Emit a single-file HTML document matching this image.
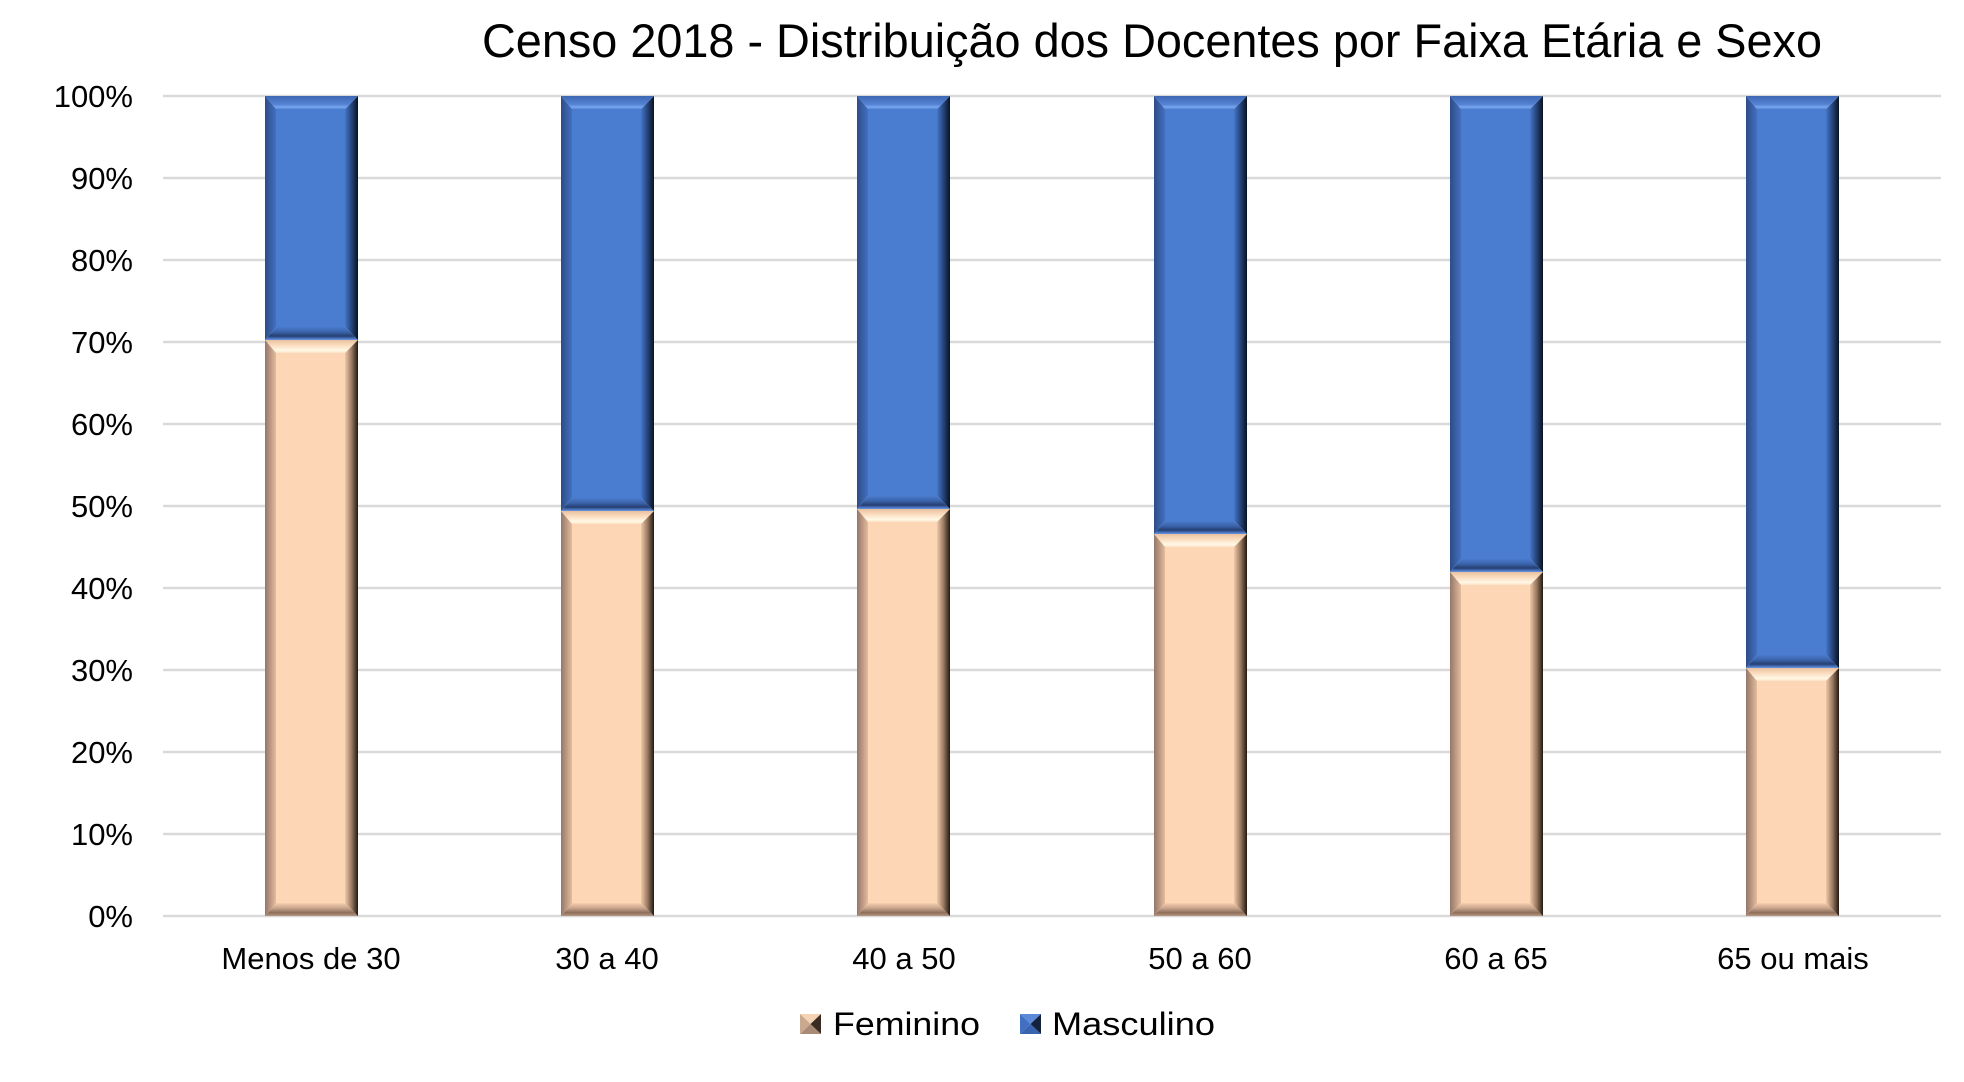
<!DOCTYPE html>
<html>
<head>
<meta charset="utf-8">
<style>
html,body{margin:0;padding:0;background:#fff;}
svg{display:block;}
text{font-family:"Liberation Sans",Arial,sans-serif;fill:#000;}
</style>
</head>
<body>
<svg width="1964" height="1082" viewBox="0 0 1964 1082" xmlns="http://www.w3.org/2000/svg">
<defs>
  <linearGradient id="bTop" x1="0" y1="0" x2="0" y2="1">
    <stop offset="0" stop-color="#3e67b2"/><stop offset="0.65" stop-color="#5483d5"/>
    <stop offset="0.85" stop-color="#7aa6f0"/><stop offset="1" stop-color="#5787d8"/>
  </linearGradient>
  <linearGradient id="bBot" x1="0" y1="0" x2="0" y2="1">
    <stop offset="0" stop-color="#4a7bce"/><stop offset="0.4" stop-color="#3a62a8"/>
    <stop offset="0.7" stop-color="#253f70"/><stop offset="0.88" stop-color="#4a74c0"/>
    <stop offset="1" stop-color="#6a96e2"/>
  </linearGradient>
  <linearGradient id="bLeft" x1="0" y1="0" x2="1" y2="0">
    <stop offset="0" stop-color="#2c4c88"/><stop offset="1" stop-color="#4470c0"/>
  </linearGradient>
  <linearGradient id="bRight" x1="0" y1="0" x2="1" y2="0">
    <stop offset="0" stop-color="#4476c8"/><stop offset="0.5" stop-color="#26447a"/>
    <stop offset="1" stop-color="#0a1222"/>
  </linearGradient>
  <linearGradient id="pTop" x1="0" y1="0" x2="0" y2="1">
    <stop offset="0" stop-color="#e8c0a0"/><stop offset="0.4" stop-color="#fbdcbe"/>
    <stop offset="0.8" stop-color="#fff8e6"/><stop offset="1" stop-color="#fde2c6"/>
  </linearGradient>
  <linearGradient id="pBot" x1="0" y1="0" x2="0" y2="1">
    <stop offset="0" stop-color="#f6cfb0"/><stop offset="0.4" stop-color="#c8a48a"/>
    <stop offset="0.75" stop-color="#8c6e5c"/><stop offset="1" stop-color="#b89880"/>
  </linearGradient>
  <linearGradient id="pLeft" x1="0" y1="0" x2="1" y2="0">
    <stop offset="0" stop-color="#94766a"/><stop offset="1" stop-color="#e4bc9c"/>
  </linearGradient>
  <linearGradient id="pRight" x1="0" y1="0" x2="1" y2="0">
    <stop offset="0" stop-color="#f0c8a8"/><stop offset="0.5" stop-color="#9a7a62"/>
    <stop offset="1" stop-color="#221812"/>
  </linearGradient>
</defs>

<!-- Title -->
<text x="482" y="57" font-size="47" textLength="1340" lengthAdjust="spacingAndGlyphs">Censo 2018 - Distribuição dos Docentes por Faixa Etária e Sexo</text>

<!-- Gridlines -->
<g stroke="#d9d9d9" stroke-width="2.5">
  <line x1="163" y1="96" x2="1941" y2="96"/>
  <line x1="163" y1="178" x2="1941" y2="178"/>
  <line x1="163" y1="260" x2="1941" y2="260"/>
  <line x1="163" y1="342" x2="1941" y2="342"/>
  <line x1="163" y1="424" x2="1941" y2="424"/>
  <line x1="163" y1="506" x2="1941" y2="506"/>
  <line x1="163" y1="588" x2="1941" y2="588"/>
  <line x1="163" y1="670" x2="1941" y2="670"/>
  <line x1="163" y1="752" x2="1941" y2="752"/>
  <line x1="163" y1="834" x2="1941" y2="834"/>
  <line x1="163" y1="916" x2="1941" y2="916"/>
</g>

<!-- Y labels -->
<g font-size="31" text-anchor="end">
  <text x="133" y="107">100%</text>
  <text x="133" y="189">90%</text>
  <text x="133" y="271">80%</text>
  <text x="133" y="353">70%</text>
  <text x="133" y="435">60%</text>
  <text x="133" y="517">50%</text>
  <text x="133" y="599">40%</text>
  <text x="133" y="681">30%</text>
  <text x="133" y="763">20%</text>
  <text x="133" y="845">10%</text>
  <text x="133" y="927">0%</text>
</g>

<!-- Bar 1 (split 340) -->
<g>
  <rect x="276" y="109" width="69" height="218" fill="#4a7cd0"/>
  <polygon points="265,96 358,96 345,109 276,109" fill="url(#bTop)"/>
  <polygon points="265,340 358,340 345,327 276,327" fill="url(#bBot)"/>
  <polygon points="265,96 276,109 276,327 265,340" fill="url(#bLeft)"/>
  <polygon points="358,96 345,109 345,327 358,340" fill="url(#bRight)"/>
  <rect x="276" y="353" width="69" height="550" fill="#fdd6b6"/>
  <polygon points="265,340 358,340 345,353 276,353" fill="url(#pTop)"/>
  <polygon points="265,916 358,916 345,903 276,903" fill="url(#pBot)"/>
  <polygon points="265,340 276,353 276,903 265,916" fill="url(#pLeft)"/>
  <polygon points="358,340 345,353 345,903 358,916" fill="url(#pRight)"/>
</g>
<!-- Bar 2 (split 511) -->
<g>
  <rect x="572" y="109" width="69" height="389" fill="#4a7cd0"/>
  <polygon points="561,96 654,96 641,109 572,109" fill="url(#bTop)"/>
  <polygon points="561,511 654,511 641,498 572,498" fill="url(#bBot)"/>
  <polygon points="561,96 572,109 572,498 561,511" fill="url(#bLeft)"/>
  <polygon points="654,96 641,109 641,498 654,511" fill="url(#bRight)"/>
  <rect x="572" y="524" width="69" height="379" fill="#fdd6b6"/>
  <polygon points="561,511 654,511 641,524 572,524" fill="url(#pTop)"/>
  <polygon points="561,916 654,916 641,903 572,903" fill="url(#pBot)"/>
  <polygon points="561,511 572,524 572,903 561,916" fill="url(#pLeft)"/>
  <polygon points="654,511 641,524 641,903 654,916" fill="url(#pRight)"/>
</g>
<!-- Bar 3 (split 509) -->
<g>
  <rect x="868" y="109" width="69" height="387" fill="#4a7cd0"/>
  <polygon points="857,96 950,96 937,109 868,109" fill="url(#bTop)"/>
  <polygon points="857,509 950,509 937,496 868,496" fill="url(#bBot)"/>
  <polygon points="857,96 868,109 868,496 857,509" fill="url(#bLeft)"/>
  <polygon points="950,96 937,109 937,496 950,509" fill="url(#bRight)"/>
  <rect x="868" y="522" width="69" height="381" fill="#fdd6b6"/>
  <polygon points="857,509 950,509 937,522 868,522" fill="url(#pTop)"/>
  <polygon points="857,916 950,916 937,903 868,903" fill="url(#pBot)"/>
  <polygon points="857,509 868,522 868,903 857,916" fill="url(#pLeft)"/>
  <polygon points="950,509 937,522 937,903 950,916" fill="url(#pRight)"/>
</g>
<!-- Bar 4 (split 534) -->
<g>
  <rect x="1165" y="109" width="69" height="412" fill="#4a7cd0"/>
  <polygon points="1154,96 1247,96 1234,109 1165,109" fill="url(#bTop)"/>
  <polygon points="1154,534 1247,534 1234,521 1165,521" fill="url(#bBot)"/>
  <polygon points="1154,96 1165,109 1165,521 1154,534" fill="url(#bLeft)"/>
  <polygon points="1247,96 1234,109 1234,521 1247,534" fill="url(#bRight)"/>
  <rect x="1165" y="547" width="69" height="356" fill="#fdd6b6"/>
  <polygon points="1154,534 1247,534 1234,547 1165,547" fill="url(#pTop)"/>
  <polygon points="1154,916 1247,916 1234,903 1165,903" fill="url(#pBot)"/>
  <polygon points="1154,534 1165,547 1165,903 1154,916" fill="url(#pLeft)"/>
  <polygon points="1247,534 1234,547 1234,903 1247,916" fill="url(#pRight)"/>
</g>
<!-- Bar 5 (split 572) -->
<g>
  <rect x="1461" y="109" width="69" height="450" fill="#4a7cd0"/>
  <polygon points="1450,96 1543,96 1530,109 1461,109" fill="url(#bTop)"/>
  <polygon points="1450,572 1543,572 1530,559 1461,559" fill="url(#bBot)"/>
  <polygon points="1450,96 1461,109 1461,559 1450,572" fill="url(#bLeft)"/>
  <polygon points="1543,96 1530,109 1530,559 1543,572" fill="url(#bRight)"/>
  <rect x="1461" y="585" width="69" height="318" fill="#fdd6b6"/>
  <polygon points="1450,572 1543,572 1530,585 1461,585" fill="url(#pTop)"/>
  <polygon points="1450,916 1543,916 1530,903 1461,903" fill="url(#pBot)"/>
  <polygon points="1450,572 1461,585 1461,903 1450,916" fill="url(#pLeft)"/>
  <polygon points="1543,572 1530,585 1530,903 1543,916" fill="url(#pRight)"/>
</g>
<!-- Bar 6 (split 668) -->
<g>
  <rect x="1757" y="109" width="69" height="546" fill="#4a7cd0"/>
  <polygon points="1746,96 1839,96 1826,109 1757,109" fill="url(#bTop)"/>
  <polygon points="1746,668 1839,668 1826,655 1757,655" fill="url(#bBot)"/>
  <polygon points="1746,96 1757,109 1757,655 1746,668" fill="url(#bLeft)"/>
  <polygon points="1839,96 1826,109 1826,655 1839,668" fill="url(#bRight)"/>
  <rect x="1757" y="681" width="69" height="222" fill="#fdd6b6"/>
  <polygon points="1746,668 1839,668 1826,681 1757,681" fill="url(#pTop)"/>
  <polygon points="1746,916 1839,916 1826,903 1757,903" fill="url(#pBot)"/>
  <polygon points="1746,668 1757,681 1757,903 1746,916" fill="url(#pLeft)"/>
  <polygon points="1839,668 1826,681 1826,903 1839,916" fill="url(#pRight)"/>
</g>

<!-- Category labels -->
<g font-size="31" text-anchor="middle">
  <text x="311" y="969">Menos de 30</text>
  <text x="607" y="969">30 a 40</text>
  <text x="904" y="969">40 a 50</text>
  <text x="1200" y="969">50 a 60</text>
  <text x="1496" y="969">60 a 65</text>
  <text x="1793" y="969">65 ou mais</text>
</g>

<!-- Legend -->
<g>
  <polygon points="800,1014 821,1014 810.5,1024" fill="#f6d2b4"/>
  <polygon points="800,1034 821,1034 810.5,1024" fill="#a88a76"/>
  <polygon points="800,1014 810.5,1024 800,1034" fill="#c8a88e"/>
  <polygon points="821,1014 810.5,1024 821,1034" fill="#3a2c22"/>
  <polygon points="1020,1014 1041,1014 1030.5,1024" fill="#5c8ad8"/>
  <polygon points="1020,1034 1041,1034 1030.5,1024" fill="#3a64b0"/>
  <polygon points="1020,1014 1030.5,1024 1020,1034" fill="#4170c2"/>
  <polygon points="1041,1014 1030.5,1024 1041,1034" fill="#14223e"/>
  <text x="833" y="1035" font-size="32" textLength="147" lengthAdjust="spacingAndGlyphs">Feminino</text>
  <text x="1052" y="1035" font-size="32" textLength="163" lengthAdjust="spacingAndGlyphs">Masculino</text>
</g>
</svg>
</body>
</html>
